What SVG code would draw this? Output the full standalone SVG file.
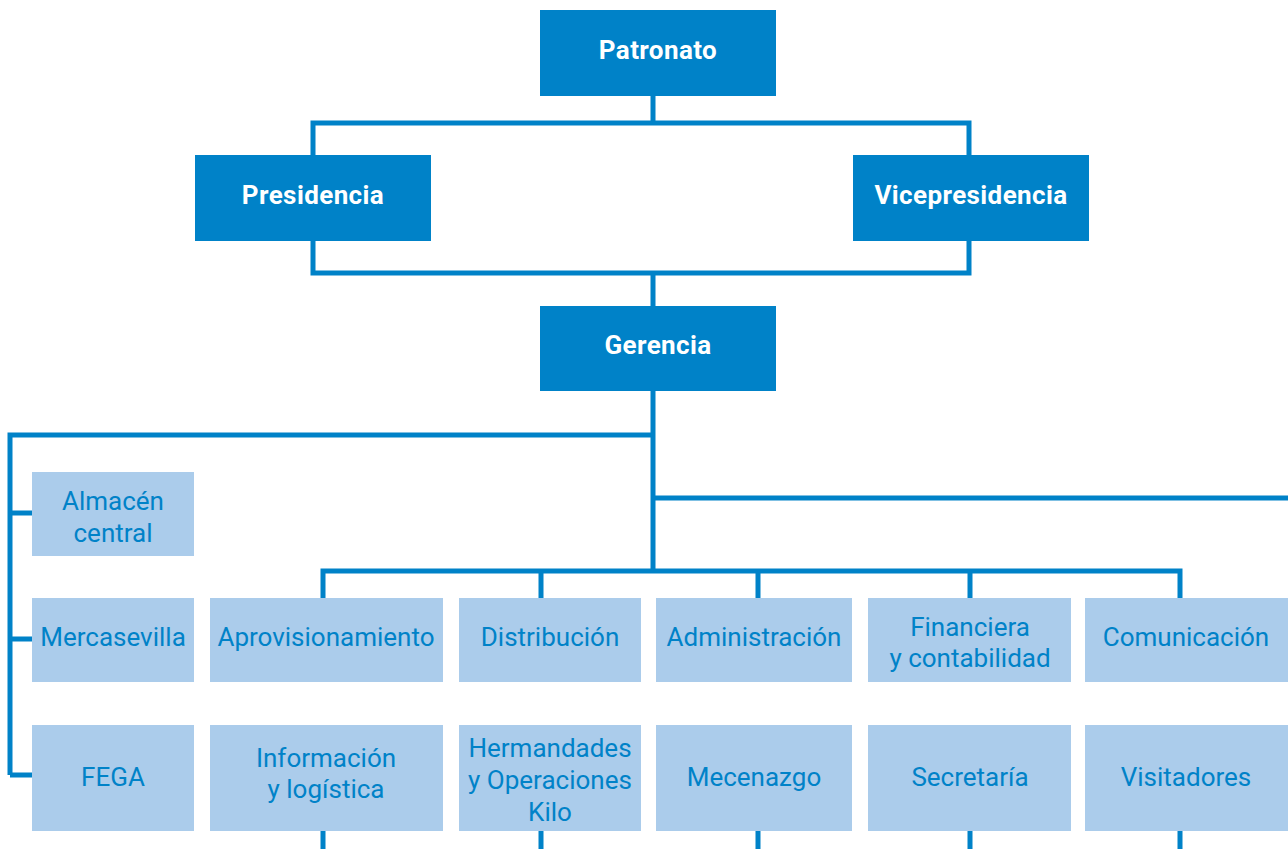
<svg xmlns="http://www.w3.org/2000/svg" width="1288" height="849" viewBox="0 0 1288 849">
<style>
.dk{fill:#0082c8}
.lt{fill:#abcceb}
.tw{font-family:Roboto,"Noto Sans",sans-serif;font-weight:bold;font-size:26px;letter-spacing:0.4px;fill:#ffffff;text-anchor:middle}
.tb{font-family:Roboto,"Noto Sans",sans-serif;font-size:26px;fill:#0082c8;text-anchor:middle}
.ln{fill:none;stroke:#0082c8;stroke-width:5}
</style>
<rect width="1288" height="849" fill="#ffffff"/>
<g id="connectors">
<path class="ln" d="M653 96V123M313 155V123H969V155"/>
<path class="ln" d="M313 241V273H969V241M653 273V306"/>
<path class="ln" d="M653 391V571M653 435H10V775M10 513H32M10 639H32M10 775H32"/>
<path class="ln" d="M653 498H1288"/>
<path class="ln" d="M323 598V571H1180V598M541 571V598M758 571V598M970 571V598"/>
<path class="ln" d="M323 831V849M541 831V849M758 831V849M970 831V849M1180 831V849"/>
</g>
<g id="patronato"><rect class="dk" x="540" y="10" width="236" height="86"/><text class="tw" x="658" y="59">Patronato</text></g>
<g id="presidencia"><rect class="dk" x="195" y="155" width="236" height="86"/><text class="tw" x="313" y="204">Presidencia</text></g>
<g id="vicepresidencia"><rect class="dk" x="853" y="155" width="236" height="86"/><text class="tw" x="971" y="204">Vicepresidencia</text></g>
<g id="gerencia"><rect class="dk" x="540" y="306" width="236" height="85"/><text class="tw" x="658" y="354">Gerencia</text></g>
<g id="almacen"><rect class="lt" x="32" y="472" width="162" height="84"/><text class="tb" x="113" y="510">Almacén</text><text class="tb" x="113" y="542">central</text></g>
<g id="mercasevilla"><rect class="lt" x="32" y="598" width="162" height="84"/><text class="tb" x="113" y="646">Mercasevilla</text></g>
<g id="fega"><rect class="lt" x="32" y="725" width="162" height="106"/><text class="tb" x="113" y="786">FEGA</text></g>
<g id="aprovisionamiento"><rect class="lt" x="210" y="598" width="233" height="84"/><text class="tb" x="326" y="646">Aprovisionamiento</text></g>
<g id="distribucion"><rect class="lt" x="459" y="598" width="182" height="84"/><text class="tb" x="550" y="646">Distribución</text></g>
<g id="administracion"><rect class="lt" x="656" y="598" width="196" height="84"/><text class="tb" x="754" y="646">Administración</text></g>
<g id="financiera"><rect class="lt" x="868" y="598" width="203" height="84"/><text class="tb" x="970" y="636">Financiera</text><text class="tb" x="970" y="667">y contabilidad</text></g>
<g id="comunicacion"><rect class="lt" x="1085" y="598" width="203" height="84"/><text class="tb" x="1186" y="646">Comunicación</text></g>
<g id="informacion"><rect class="lt" x="210" y="725" width="233" height="106"/><text class="tb" x="326" y="767">Información</text><text class="tb" x="326" y="798">y logística</text></g>
<g id="hermandades"><rect class="lt" x="459" y="725" width="182" height="106"/><text class="tb" x="550" y="757">Hermandades</text><text class="tb" x="550" y="789">y Operaciones</text><text class="tb" x="550" y="821">Kilo</text></g>
<g id="mecenazgo"><rect class="lt" x="656" y="725" width="196" height="106"/><text class="tb" x="754" y="786">Mecenazgo</text></g>
<g id="secretaria"><rect class="lt" x="868" y="725" width="203" height="106"/><text class="tb" x="970" y="786">Secretaría</text></g>
<g id="visitadores"><rect class="lt" x="1085" y="725" width="203" height="106"/><text class="tb" x="1186" y="786">Visitadores</text></g>
</svg>
